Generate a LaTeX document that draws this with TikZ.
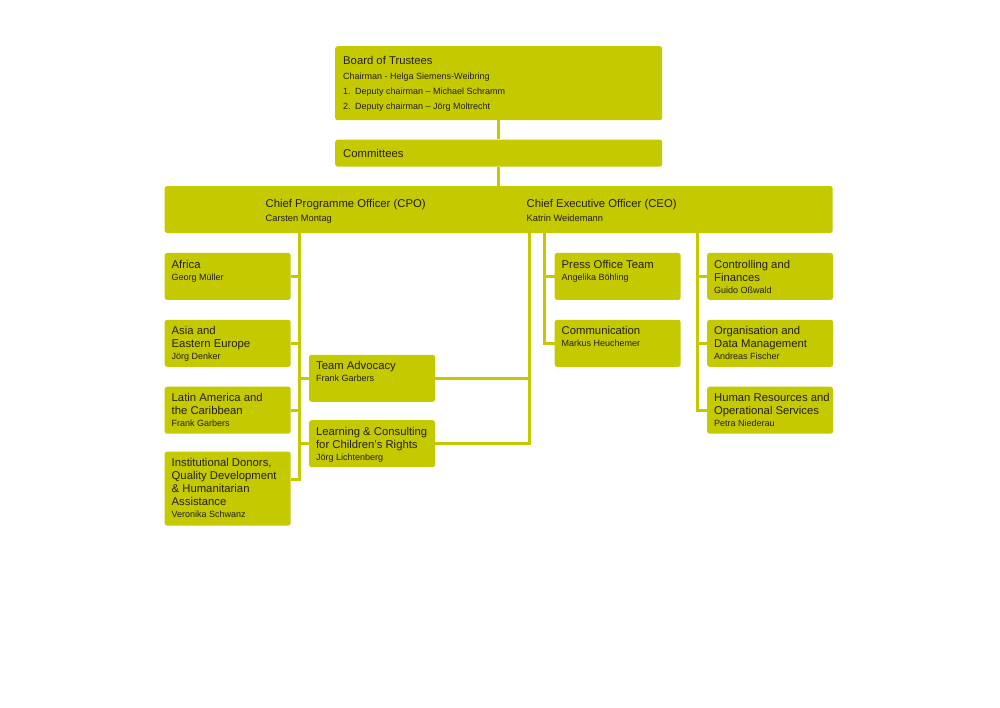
\documentclass[tikz,border=0pt]{standalone}
\usepackage{fontspec}
\setmainfont{Liberation Sans}
\usetikzlibrary{positioning}

\definecolor{kolive}{RGB}{197,201,0}
\definecolor{ktext}{RGB}{35,31,32}
\newcommand{\unitfont}{\fontsize{11.3}{13}\selectfont}
\newcommand{\personfont}{\fontsize{9}{12}\selectfont}
\newcommand{\unittext}[3][33pt]{\parbox[c][#1][t]{126pt}{\raggedright\leftskip=7pt
  {\unitfont #2\par}{\personfont #3\par}}}

\begin{document}
\begin{tikzpicture}[x=1pt,y=-1pt,
		unit/.style={fill=kolive,rounded corners=2.5pt,inner xsep=0pt,inner ysep=7pt,text=ktext},
		link/.style={draw=kolive,line width=3pt},
		node distance = 19.5pt]
		
		\useasboundingbox (0,0) rectangle (1000,707);
		
		% board and committees
		\node[unit,anchor=north west,inner ysep=10pt] (board) at (335,46) {\parbox[c][54pt][t]{327pt}{\leftskip=8pt
				{\unitfont Board of Trustees\par}
				{\personfont\baselineskip=15pt Chairman - Helga Siemens-Weibring\par
					1.\enspace Deputy chairman – Michael Schramm\par
					2.\enspace Deputy chairman – Jörg Moltrecht\par}}};
		\node[unit,below=19pt of board,inner ysep=0pt] (committees) {\parbox[c][27pt][c]{327pt}{\leftskip=8pt\unitfont Committees}};
		
		% office bar
		\node[unit,below=19pt of committees,minimum width=668pt,minimum height=47pt,inner sep=0pt] (office) {};
		\node[anchor=north west,inner sep=0pt,text=ktext] (cpo) at ([xshift=101pt,yshift=-13pt]office.north west)
			{\parbox[t]{220pt}{{\unitfont Chief Programme Officer (CPO)\par}{\fontsize{9.3}{14}\selectfont Carsten Montag\par}}};
		\node[anchor=north west,inner sep=0pt,text=ktext] (ceo) at ([xshift=362pt,yshift=-13pt]office.north west)
			{\parbox[t]{220pt}{{\unitfont Chief Executive Officer (CEO)\par}{\fontsize{9.3}{14}\selectfont Katrin Weidemann\par}}};
		
		% programme units
		\node[unit,anchor=north west] (africa) at ([yshift=-19.5pt]office.south west) {\unittext{Africa}{Georg Müller}};
		\node[unit,below=of africa] (asia) {\unittext{Asia and\\Eastern Europe}{Jörg Denker}};
		\node[unit,below=of asia] (latam) {\unittext{Latin America and\\the Caribbean}{Frank Garbers}};
		\node[unit,below=17.5pt of latam] (inst) {\unittext[60pt]{Institutional Donors,\\Quality Development\\\& Humanitarian\\Assistance}{Veronika Schwanz}};
		\node[unit,anchor=north west] (team) at ([xshift=18pt,yshift=-35pt]asia.north east) {\unittext{Team Advocacy}{Frank Garbers}};
		\node[unit,below=18pt of team] (learning) {\unittext{Learning \& Consulting\\for Children's Rights}{Jörg Lichtenberg}};
		
		% executive units
		\node[unit,anchor=north west] (press) at ([xshift=390pt,yshift=-19.5pt]office.south west) {\unittext{Press Office Team}{Angelika Böhling}};
		\node[unit,below=of press] (comm) {\unittext{Communication}{Markus Heuchemer}};
		\node[unit,right=26pt of press] (ctrl) {\unittext{Controlling and\\Finances}{Guido Oßwald}};
		\node[unit,below=of ctrl] (orga) {\unittext{Organisation and\\Data Management}{Andreas Fischer}};
		\node[unit,below=of orga] (hr) {\unittext{Human Resources and\\Operational Services}{Petra Niederau}};
		
		% lines
		\draw[link] (board) -- (committees);
		\draw[link] (committees) -- (office);
		
		\coordinate (cpoline) at ([xshift=135pt]office.south west);
		\foreach \b in {africa,asia,latam}
		\draw[link] (cpoline) |- (\b.east);
		\draw[link] (cpoline) |- ([yshift=9pt]inst.east);
		\foreach \b in {team,learning}
		\draw[link] (cpoline) |- (\b.west);
		
		\coordinate (ceoline) at ([xshift=365pt]office.south west);
		\foreach \b in {team,learning}
		\draw[link] (ceoline) |- (\b.east);
		\coordinate (pressline) at ([xshift=380pt]office.south west);
		\foreach \b in {press,comm}
		\draw[link] (pressline) |- (\b.west);
		\coordinate (ctrlline) at ([xshift=533pt]office.south west);
		\foreach \b in {ctrl,orga,hr}
		\draw[link] (ctrlline) |- (\b.west);
		
	\end{tikzpicture}
\end{document}
